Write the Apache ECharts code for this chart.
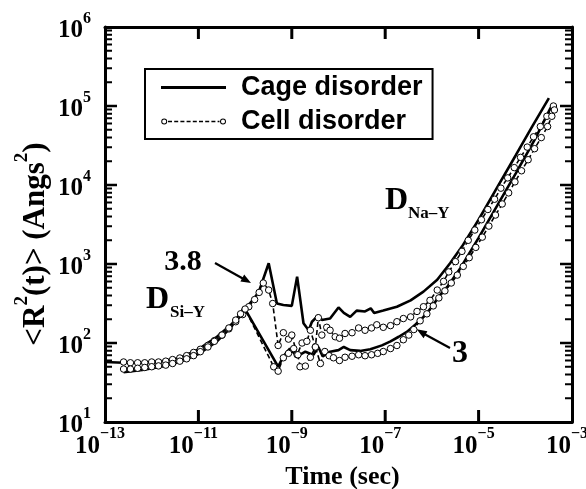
<!DOCTYPE html>
<html>
<head>
<meta charset="utf-8">
<script src="https://cdn.jsdelivr.net/npm/echarts@6/dist/echarts.min.js"></script>
<style>html,body{margin:0;padding:0;background:#fff}#c{width:586px;height:489px}</style>
</head>
<body>
<div id="c"></div>
<script>
// ---------------- data ----------------
// Cage disorder, upper curve
const cageUpperT = [1e-13,2.5e-13,6.3e-13,1.6e-12,4.0e-12,1.0e-11,2.5e-11,5.0e-11,1.0e-10,1.6e-10,2.0e-10,3.2e-10,4.8e-10,6.6e-10,1.0e-9,1.3e-9,1.78e-9,2.3e-9,2.7e-9,3.7e-9,4.4e-9,6.6e-9,1.0e-8,1.3e-8,1.78e-8,2.45e-8,3.7e-8,4.9e-8,5.8e-8,9.1e-8,1.78e-7,3.5e-7,6.6e-7,1.3e-6,2.45e-6,4.4e-6,1.0e-5,2.5e-5,6.3e-5,1.4e-4,3.2e-4];
const cageUpperR = [57.5,56.2,56.2,58.9,64.6,83.2,120,170,269,372,457,1023,316,302,295,692,178,145,186,224,195,204,282,240,214,257,251,275,240,257,288,347,447,631,1023,1660,3631,9333,23990,54950,125900];
// Cage disorder, lower curve
const cageLowerT = [2.5e-13,6.3e-13,1.6e-12,4.0e-12,1.0e-11,2.5e-11,5.0e-11,9.5e-11,5.1e-10,6.6e-10,9.1e-10,1.3e-9,1.95e-9,2.9e-9,3.7e-9,4.6e-9,6.6e-9,1.0e-8,1.3e-8,1.78e-8,2.9e-8,4.8e-8,8.5e-8,1.3e-7,1.95e-7,2.9e-7,4.4e-7,6.6e-7,1.0e-6,1.5e-6,2.2e-6,4.1e-6,1.0e-5,2.5e-5,6.3e-5,1.58e-4,3.5e-4];
const cageLowerR = [42.7,45.7,50.1,57.5,72.4,105,158,282,50.1,67.6,85.1,67.6,77.6,70.8,89.1,67.6,77.6,81.3,89.1,81.3,79.4,83.2,93.3,105,120,138,170,214,288,407,525,891,2138,5495,14130,37150,95500];
// Cell disorder, upper curve
const cellUpperT = [2.5e-13,3.5e-13,5.0e-13,7.1e-13,1.0e-12,1.4e-12,2.0e-12,2.8e-12,4.0e-12,5.6e-12,7.9e-12,1.1e-11,1.6e-11,2.2e-11,3.2e-11,4.5e-11,6.3e-11,8.9e-11,1.2e-10,1.6e-10,2.0e-10,2.45e-10,3.2e-10,3.9e-10,5.1e-10,6.6e-10,8.5e-10,1.0e-9,1.3e-9,1.66e-9,2.1e-9,2.5e-9,3.2e-9,3.7e-9,4.4e-9,5.6e-9,6.6e-9,8.5e-9,1.05e-8,1.38e-8,1.95e-8,2.7e-8,3.7e-8,5.1e-8,6.6e-8,9.1e-8,1.3e-7,1.78e-7,2.45e-7,3.5e-7,4.8e-7,6.6e-7,9.1e-7,1.3e-6,1.78e-6,2.3e-6,3.2e-6,4.4e-6,6.0e-6,8.3e-6,1.15e-5,1.58e-5,2.2e-5,3.0e-5,4.2e-5,5.8e-5,7.9e-5,1.1e-4,1.5e-4,2.1e-4,2.9e-4,4.0e-4];
const cellUpperR = [57.5,56.2,56.2,56.2,57.5,57.5,58.9,61.7,64.6,69.2,75.9,83.2,93.3,107,126,151,186,229,288,355,437,575,468,316,93,135,112,126,71,100,105,145,89,209,126,158,145,120,115,132,135,155,145,155,170,158,166,186,204,214,251,288,347,468,603,794,1072,1445,1995,2692,3631,4898,6607,9120,12300,16600,22390,30200,40740,54950,74130,100000];
// Cell disorder, lower curve
const cellLowerT = [2.5e-13,3.5e-13,5.0e-13,7.1e-13,1.0e-12,1.4e-12,2.0e-12,2.8e-12,4.0e-12,5.6e-12,7.9e-12,1.1e-11,1.6e-11,2.2e-11,3.2e-11,4.5e-11,6.3e-11,8.0e-11,1.0e-10,4.1e-10,5.1e-10,6.6e-10,8.5e-10,1.1e-9,1.35e-9,1.5e-9,1.95e-9,2.5e-9,3.2e-9,4.1e-9,5.1e-9,6.3e-9,7.8e-9,1.05e-8,1.38e-8,1.95e-8,2.7e-8,3.7e-8,5.1e-8,6.9e-8,9.1e-8,1.3e-7,1.78e-7,2.45e-7,3.2e-7,4.1e-7,5.6e-7,7.8e-7,1.07e-6,1.41e-6,1.9e-6,2.6e-6,3.5e-6,4.7e-6,6.3e-6,8.7e-6,1.2e-5,1.66e-5,2.3e-5,3.2e-5,4.4e-5,6.0e-5,8.3e-5,1.15e-4,1.58e-4,2.2e-4,3.0e-4,3.7e-4,4.2e-4];
const cellLowerR = [46.8,46.8,47.9,49.0,50.1,51.3,52.5,55.0,58.9,63.1,69.2,77.6,89.1,105,126,155,195,234,269,50,44,65,74,85,71,50,51,66,89,55,78,69,65,60,66,68,71,69,71,74,78,85,93,110,126,148,191,234,295,372,457,575,724,933,1202,1622,2188,3020,4169,5754,7943,10960,15140,20890,28840,39810,54950,74130,89130];

// axis ticks / labels
const xLabelValues = [1e-13,1e-11,1e-9,1e-7,1e-5,1e-3];
const xTickValues = [1e-11,1e-9,1e-7,1e-5];
const yLabelValues = [1e1,1e2,1e3,1e4,1e5,1e6];
const yMajorTickValues = [1e2,1e3,1e4,1e5];
const yMinorTickValues = [20,30,40,50,60,70,80,90,200,300,400,500,600,700,800,900,2000,3000,4000,5000,6000,7000,8000,9000,20000,30000,40000,50000,60000,70000,80000,90000,200000,300000,400000,500000,600000,700000,800000,900000];

const legendNames = ['Cage disorder','Cell disorder'];
const X_MIN = 1e-13, X_MAX = 1e-3, Y_MIN = 10, Y_MAX = 1e6;

// ---------------- layout / styling ----------------
const GRID = {left: 105, right: 14, top: 27, bottom: 67};
const W = 586, H = 489;
const X_DEC_PER_PX = Math.log10(X_MAX / X_MIN) / (W - GRID.left - GRID.right);
const Y_DEC_PER_PX = Math.log10(Y_MAX / Y_MIN) / (H - GRID.top - GRID.bottom);
const SERIF = "'Liberation Serif','Times New Roman',Times,serif";
const SANS = "'Liberation Sans',Arial,Helvetica,sans-serif";

function pow10Label(v){
  const e = Math.round(Math.log10(v));
  return '{b|10}{s|' + (e < 0 ? '\u2212' + (-e) : e) + '}';
}
const labelRich = {
  b: {fontFamily: SERIF, fontWeight: 'bold', fontSize: 25, lineHeight: 33, verticalAlign: 'bottom', color: '#000'},
  s: {fontFamily: SERIF, fontWeight: 'bold', fontSize: 16, lineHeight: 16, verticalAlign: 'top', color: '#000'}
};

// legend icons (filled paths; bbox pinned to itemWidth x itemHeight)
const IW = 75, IH = 12;
const cageIcon = 'path://M0,0L0,0M' + IW + ',' + IH + 'L' + IW + ',' + IH + 'M0,4.6H65V7.4H0Z';
function ring(cx, cy, r, ri){
  return 'M' + (cx - r) + ',' + cy + 'A' + r + ',' + r + ' 0 1,0 ' + (cx + r) + ',' + cy + 'A' + r + ',' + r + ' 0 1,0 ' + (cx - r) + ',' + cy + 'Z' +
         'M' + (cx - ri) + ',' + cy + 'A' + ri + ',' + ri + ' 0 1,1 ' + (cx + ri) + ',' + cy + 'A' + ri + ',' + ri + ' 0 1,1 ' + (cx - ri) + ',' + cy + 'Z';
}
let cellIconPath = 'M0,0L0,0M' + IW + ',' + IH + 'L' + IW + ',' + IH;
cellIconPath += ring(3.2, 6, 3, 2);
cellIconPath += ring(62, 6, 3, 2);
for (let x = 7; x < 58; x += 6.2) {
  const x2 = Math.min(x + 4, 58.5);
  cellIconPath += 'M' + x + ',5.3H' + x2 + 'V6.7H' + x + 'Z';
}
const cellIcon = 'path://' + cellIconPath;

// frame tick marks as broken line series on the same log axes (length given in pixels)
const GAP = ['-', '-'];
function yTickSegments(values, lenPx){
  const f = Math.pow(10, lenPx * X_DEC_PER_PX);
  const out = [];
  values.forEach(v => {
    out.push([X_MIN, v], [X_MIN * f, v], GAP);
    out.push([X_MAX / f, v], [X_MAX, v], GAP);
  });
  return out;
}
function xTickSegments(values, lenPx){
  const f = Math.pow(10, lenPx * Y_DEC_PER_PX);
  const out = [];
  values.forEach(t => {
    out.push([t, Y_MIN], [t, Y_MIN * f], GAP);
    out.push([t, Y_MAX / f], [t, Y_MAX], GAP);
  });
  return out;
}
function tickSeries(name, data, width){
  return {
    name: name, type: 'line', xAxisIndex: 0, yAxisIndex: 0, data: data,
    showSymbol: false, symbol: 'none', connectNulls: false, clip: false, z: 5,
    lineStyle: {color: '#000', width: width, cap: 'butt'},
    emphasis: {disabled: true}, tooltip: {show: false}
  };
}

const chart = echarts.init(document.getElementById('c'), null, {renderer: 'canvas'});
const axisLineStyle = {lineStyle: {color: '#000', width: 3}};

chart.setOption({
  animation: false,
  backgroundColor: '#fff',
  grid: {left: GRID.left, right: GRID.right, top: GRID.top, bottom: GRID.bottom, containLabel: false, outerBoundsMode: 'none'},
  legend: {
    left: 145, top: 69,
    orient: 'vertical',
    data: [
      {name: legendNames[0], icon: cageIcon, itemStyle: {color: '#000', borderWidth: 0}},
      {name: legendNames[1], icon: cellIcon, itemStyle: {color: '#000', borderWidth: 0}}
    ],
    itemWidth: IW, itemHeight: IH,
    symbolKeepAspect: false,
    itemGap: 7,
    padding: [5, 10, 4, 16],
    borderColor: '#000', borderWidth: 2,
    backgroundColor: '#fff',
    selectedMode: false,
    textStyle: {fontFamily: SANS, fontWeight: 'bold', fontSize: 27, lineHeight: 26, color: '#000'}
  },
  xAxis: [
    {
      type: 'log', logBase: 10, min: X_MIN, max: X_MAX, position: 'bottom',
      axisLine: axisLineStyle,
      axisTick: {show: false},
      axisLabel: {show: true, margin: 4, padding: [0, 10, 0, 0], formatter: pow10Label, rich: labelRich, customValues: xLabelValues, showMinLabel: true, showMaxLabel: true, hideOverlap: false},
      splitLine: {show: false}, minorTick: {show: false},
      name: 'Time (sec)', nameLocation: 'middle', nameGap: 39,
      nameTextStyle: {fontFamily: SERIF, fontWeight: 'bold', fontSize: 26, color: '#000', padding: [0, 0, 0, 8]}
    },
    {
      type: 'log', logBase: 10, min: X_MIN, max: X_MAX, position: 'top',
      axisLine: axisLineStyle, axisTick: {show: false},
      axisLabel: {show: false}, splitLine: {show: false}
    }
  ],
  yAxis: [
    {
      type: 'log', logBase: 10, min: Y_MIN, max: Y_MAX, position: 'left',
      axisLine: axisLineStyle,
      axisTick: {show: false},
      axisLabel: {show: true, margin: 14, formatter: pow10Label, rich: labelRich, customValues: yLabelValues, showMinLabel: true, showMaxLabel: true},
      splitLine: {show: false}
    },
    {
      type: 'log', logBase: 10, min: Y_MIN, max: Y_MAX, position: 'right',
      axisLine: axisLineStyle, axisTick: {show: false},
      axisLabel: {show: false}, splitLine: {show: false}
    }
  ],
  series: [
    {
      name: legendNames[0], type: 'line', xAxisIndex: 0, yAxisIndex: 0,
      data: cageUpperT.map((t, i) => [t, cageUpperR[i]]),
      showSymbol: false, symbol: 'none', z: 2,
      lineStyle: {color: '#000', width: 2.6}, itemStyle: {color: '#000'}
    },
    {
      name: legendNames[0], type: 'line', xAxisIndex: 0, yAxisIndex: 0,
      data: cageLowerT.map((t, i) => [t, cageLowerR[i]]),
      showSymbol: false, symbol: 'none', z: 2,
      lineStyle: {color: '#000', width: 2.6}, itemStyle: {color: '#000'}
    },
    {
      name: legendNames[1], type: 'line', xAxisIndex: 0, yAxisIndex: 0,
      data: cellUpperT.map((t, i) => [t, cellUpperR[i]]),
      symbol: 'circle', symbolSize: 6.5, showSymbol: true, z: 3,
      lineStyle: {color: '#000', width: 1.6, type: [5, 3]},
      itemStyle: {color: '#fff', borderColor: '#000', borderWidth: 1}
    },
    {
      name: legendNames[1], type: 'line', xAxisIndex: 0, yAxisIndex: 0,
      data: cellLowerT.map((t, i) => [t, cellLowerR[i]]),
      symbol: 'circle', symbolSize: 6.5, showSymbol: true, z: 3,
      lineStyle: {color: '#000', width: 1.6, type: [5, 3]},
      itemStyle: {color: '#fff', borderColor: '#000', borderWidth: 1}
    },
    tickSeries('major ticks (y)', yTickSegments(yMajorTickValues, 12), 2.6),
    tickSeries('minor ticks (y)', yTickSegments(yMinorTickValues, 7), 2),
    tickSeries('ticks (x)', xTickSegments(xTickValues, 12), 3)
  ],
  graphic: [
    {type: 'text', x: 32, y: 244, rotation: Math.PI / 2, z: 10, style: {
      text: '{a|<R}{s|2}{a|(t)> (Angs}{s|2}{a|)}', align: 'center', verticalAlign: 'middle',
      rich: {
        a: {fontFamily: SERIF, fontWeight: 'bold', fontSize: 31, lineHeight: 38, verticalAlign: 'bottom', fill: '#000'},
        s: {fontFamily: SERIF, fontWeight: 'bold', fontSize: 19, lineHeight: 19, verticalAlign: 'top', fill: '#000'}
      }
    }},
    {type: 'text', x: 183, y: 262, z: 10, style: {text: '3.8', font: 'bold 30px ' + SERIF, fill: '#000', align: 'center', verticalAlign: 'middle'}},
    {type: 'line', z: 10, shape: {x1: 215, y1: 263, x2: 245, y2: 279.7}, style: {stroke: '#000', lineWidth: 2.2}},
    {type: 'polygon', z: 10, shape: {points: [[251, 283], [240.4, 281.6], [244.2, 274.6]]}, style: {fill: '#000'}},
    {type: 'text', x: 146, y: 300, z: 10, style: {text: 'D', font: 'bold 32px ' + SERIF, fill: '#000', align: 'left', verticalAlign: 'middle'}},
    {type: 'text', x: 170, y: 313, z: 10, style: {text: 'Si\u2013Y', font: 'bold 17px ' + SERIF, fill: '#000', align: 'left', verticalAlign: 'middle'}},
    {type: 'text', x: 385, y: 201, z: 10, style: {text: 'D', font: 'bold 32px ' + SERIF, fill: '#000', align: 'left', verticalAlign: 'middle'}},
    {type: 'text', x: 408, y: 214, z: 10, style: {text: 'Na\u2013Y', font: 'bold 17px ' + SERIF, fill: '#000', align: 'left', verticalAlign: 'middle'}},
    {type: 'text', x: 460, y: 354, z: 10, style: {text: '3', font: 'bold 32px ' + SERIF, fill: '#000', align: 'center', verticalAlign: 'middle'}},
    {type: 'line', z: 10, shape: {x1: 450, y1: 348, x2: 422, y2: 332.8}, style: {stroke: '#000', lineWidth: 2.2}},
    {type: 'polygon', z: 10, shape: {points: [[416.7, 329.3], [427.4, 331.2], [423.6, 338.3]]}, style: {fill: '#000'}}
  ]
});
</script>
</body>
</html>
